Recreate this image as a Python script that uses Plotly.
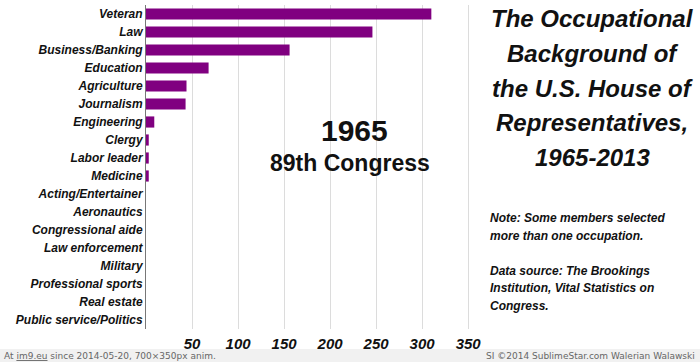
import plotly.graph_objects as go

categories = ["Veteran", "Law", "Business/Banking", "Education", "Agriculture",
              "Journalism", "Engineering", "Clergy", "Labor leader", "Medicine",
              "Acting/Entertainer", "Aeronautics", "Congressional aide",
              "Law enforcement", "Military", "Professional sports", "Real estate",
              "Public service/Politics"]
values_1965 = [310, 246, 156, 68, 44, 43, 9, 3, 3, 3, 0, 0, 0, 0, 0, 0, 0, 0]
tick_vals = [50, 100, 150, 200, 250, 300, 350]
title_lines = ["The Occupational", "Background of", "the U.S. House of",
               "Representatives,", "1965-2013"]
note_lines = ["Note: Some members selected", "more than one occupation.", "",
              "Data source: The Brookings", "Institution, Vital Statistics on",
              "Congress."]

FONT = "Liberation Sans, Arial, sans-serif"
W, H = 700, 362
L, R, T, B = 146, 230, 5, 33
PW, PH = W - L - R, H - T - B


def px(xp):
    return (xp - L) / PW


def py(yp):
    return 1 - (yp - T) / PH


fig = go.Figure(go.Bar(
    x=values_1965, y=categories, orientation="h",
    marker=dict(color="#800080", line=dict(width=0)),
))

fig.update_layout(
    width=W, height=H,
    margin=dict(l=L, r=R, t=T, b=B, autoexpand=False),
    paper_bgcolor="#ffffff", plot_bgcolor="#ffffff",
    bargap=0.38, showlegend=False,
    font=dict(family=FONT, color="#111111"),
)
fig.update_xaxes(
    range=[0, 352], tickvals=tick_vals, showgrid=True, gridcolor="#dcdcdc",
    gridwidth=1, zeroline=False, showline=False, ticks="", automargin=False,
    ticklabelstandoff=4,
    tickfont=dict(family=FONT, size=15, weight="bold", style="italic", color="#111"),
)
fig.update_yaxes(
    autorange="reversed", showline=True, linecolor="#777777", linewidth=1,
    ticks="", showgrid=False, automargin=False,
    tickfont=dict(family=FONT, size=12, weight="bold", style="italic", color="#111"),
)

# light footer band
fig.add_shape(type="rect", xref="paper", yref="paper",
              x0=px(0), x1=px(W), y0=py(349), y1=py(H),
              fillcolor="#f1f1f1", line=dict(width=0), layer="below")


def add_text(text, x, y, size, xanchor="center", style="normal", color="#111", family=FONT, weight="bold"):
    fig.add_annotation(
        text=text, xref="paper", yref="paper", x=px(x), y=py(y),
        xanchor=xanchor, yanchor="middle", showarrow=False,
        font=dict(family=family, size=size, weight=weight, style=style, color=color),
    )


add_text("1965", 354, 130, 30)
add_text("89th Congress", 350, 163, 23)

for i, line in enumerate(title_lines):
    add_text(line, 592, 19 + i * 34.5, 24, style="italic")

for i, line in enumerate(note_lines):
    if line:
        add_text(line, 488, 218 + i * 17.6, 12, xanchor="left", style="italic")

add_text("At <u>im9.eu</u> since 2014-05-20, 700×350px anim.", 2, 355.5, 9,
         xanchor="left", color="#666", family="DejaVu Sans", weight="normal")
add_text("SI ©2014 SublimeStar.com Walerian Walawski", 697, 355.5, 9,
         xanchor="right", color="#666", family="DejaVu Sans", weight="normal")

fig.write_html("out.html", config={"displayModeBar": False},
               post_script="document.body.style.margin='0';document.body.style.padding='0';")
